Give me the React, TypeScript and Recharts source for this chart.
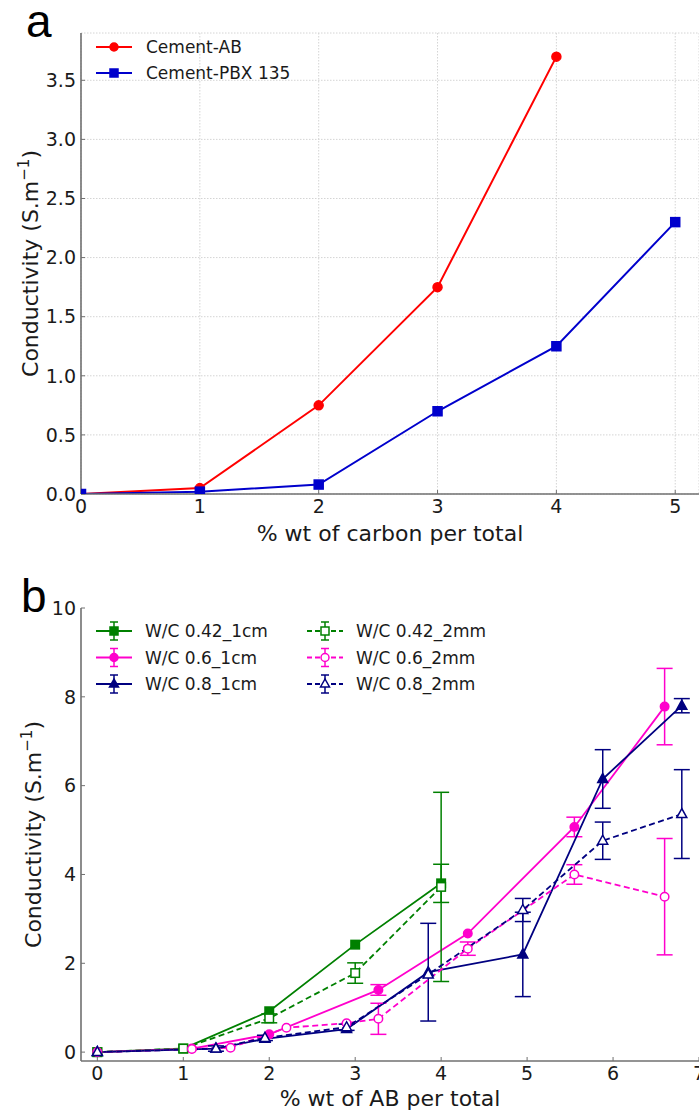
import React from 'react';
import { LineChart, Line, XAxis, YAxis, CartesianGrid, ErrorBar, Legend } from 'recharts';

// ---- panel a: conductivity vs carbon content ----
const carbonPct = [0, 1, 2, 3, 4, 5];
const cementAB = [0, 0.05, 0.75, 1.75, 3.7];
const cementPBX = [0, 0.02, 0.08, 0.7, 1.25, 2.3];
const ticksAX = [0, 1, 2, 3, 4, 5];
const ticksAY = [0, 0.5, 1, 1.5, 2, 2.5, 3, 3.5];

// ---- panel b: conductivity vs AB content, per W/C ratio ----
const wc042cmX = [0, 1.0, 2.0, 3.0, 4.0];
const wc042cmY = [0, 0.08, 0.92, 2.42, 3.8];
const wc042cmErr = [null, null, null, null, 0.43];

const wc042mmX = [0, 1.0, 2.0, 3.0, 4.0];
const wc042mmY = [0, 0.08, 0.76, 1.78, 3.72];
const wc042mmErr = [null, null, 0.1, 0.23, 2.13];

const wc06cmX = [0, 1.1, 2.0, 3.27, 4.31, 5.55, 6.6];
const wc06cmY = [0, 0.08, 0.4, 1.4, 2.67, 5.07, 7.78];
const wc06cmErr = [null, null, null, 0.12, null, 0.22, 0.86];

const wc06mmX = [0, 1.1, 1.55, 2.2, 2.9, 3.27, 4.31, 5.55, 6.6];
const wc06mmY = [0, 0.07, 0.1, 0.55, 0.65, 0.75, 2.33, 4.0, 3.5];
const wc06mmErr = [null, null, null, null, null, 0.35, 0.15, 0.22, 1.31];

const wc08cmX = [0, 1.38, 1.95, 2.9, 3.85, 4.95, 5.88, 6.8];
const wc08cmY = [0, 0.08, 0.3, 0.52, 1.8, 2.2, 6.15, 7.8];
const wc08cmErr = [null, null, null, null, 1.1, 0.95, 0.66, 0.16];

const wc08mmX = [0, 1.38, 1.95, 2.9, 3.85, 4.95, 5.88, 6.8];
const wc08mmY = [0, 0.08, 0.32, 0.56, 1.75, 3.2, 4.76, 5.36];
const wc08mmErr = [null, 0.06, 0.06, 0.07, null, 0.26, 0.42, 1.0];

const ticksBX = [0, 1, 2, 3, 4, 5, 6, 7];
const ticksBY = [0, 2, 4, 6, 8, 10];

const FONT = 'DejaVu Sans, Verdana, sans-serif';
const INK = '#1a1a1a';
const FRAME = '#707070';

const toPoints = (xs: number[], ys: number[], errs?: (number | null)[]) =>
  xs.map((x, i) => ({ x, y: ys[i], err: errs ? errs[i] : null }));

type Shape = 'circle' | 'square' | 'triangle';

const Marker = ({ shape, cx, cy, color, filled, size }: any) => {
  const fill = filled ? color : '#fff';
  const h = size / 2;
  if (shape === 'circle') return <circle cx={cx} cy={cy} r={h} fill={fill} stroke={color} strokeWidth={1.5} />;
  if (shape === 'square')
    return <rect x={cx - h} y={cy - h} width={size} height={size} fill={fill} stroke={color} strokeWidth={1.5} />;
  return (
    <polygon
      points={`${cx},${cy - h - 1} ${cx - h - 0.5},${cy + h - 1} ${cx + h + 0.5},${cy + h - 1}`}
      fill={fill}
      stroke={color}
      strokeWidth={1.5}
    />
  );
};

const makeDot = (name: string, shape: Shape, color: string, filled: boolean, size: number) => (p: any) => (
  <Marker key={`${name}-${p.index}`} shape={shape} cx={p.cx} cy={p.cy} color={color} filled={filled} size={size} />
);

const seriesA = [
  { name: 'Cement-AB', data: toPoints(carbonPct.slice(0, cementAB.length), cementAB), color: '#ff0000', shape: 'circle' as Shape, size: 9 },
  { name: 'Cement-PBX 135', data: toPoints(carbonPct, cementPBX), color: '#0000cc', shape: 'square' as Shape, size: 9 },
];

const seriesB = [
  { name: 'W/C 0.42_1cm', data: toPoints(wc042cmX, wc042cmY, wc042cmErr), color: '#008000', shape: 'square' as Shape, filled: true, dashed: false },
  { name: 'W/C 0.6_1cm', data: toPoints(wc06cmX, wc06cmY, wc06cmErr), color: '#ff00cc', shape: 'circle' as Shape, filled: true, dashed: false },
  { name: 'W/C 0.8_1cm', data: toPoints(wc08cmX, wc08cmY, wc08cmErr), color: '#000080', shape: 'triangle' as Shape, filled: true, dashed: false },
  { name: 'W/C 0.42_2mm', data: toPoints(wc042mmX, wc042mmY, wc042mmErr), color: '#008000', shape: 'square' as Shape, filled: false, dashed: true },
  { name: 'W/C 0.6_2mm', data: toPoints(wc06mmX, wc06mmY, wc06mmErr), color: '#ff00cc', shape: 'circle' as Shape, filled: false, dashed: true },
  { name: 'W/C 0.8_2mm', data: toPoints(wc08mmX, wc08mmY, wc08mmErr), color: '#000080', shape: 'triangle' as Shape, filled: false, dashed: true },
];

const tickStyle = { fill: INK, fontSize: 19, fontFamily: FONT };

const YTitle = ({ viewBox, baseX }: any) => {
  const cy = viewBox.y + viewBox.height / 2;
  return (
    <text transform={`translate(${baseX},${cy}) rotate(-90)`} textAnchor="middle" fontSize={22} fontFamily={FONT} fill={INK}>
      <tspan>Conductivity (S.m</tspan>
      <tspan fontSize={15} dy={-9}>−1</tspan>
      <tspan dy={9}>)</tspan>
    </text>
  );
};

const XTitle = ({ viewBox, text, baseY }: any) => (
  <text x={viewBox.x + viewBox.width / 2} y={baseY} textAnchor="middle" fontSize={22} fontFamily={FONT} fill={INK}>
    {text}
  </text>
);

const LegendA = () => (
  <svg width={260} height={60} style={{ display: 'block' }}>
    {seriesA.map((s, i) => (
      <g key={s.name} transform={`translate(0,${10 + i * 26})`}>
        <line x1={0} x2={36} y1={0} y2={0} stroke={s.color} strokeWidth={2} />
        <Marker shape={s.shape} cx={18} cy={0} color={s.color} filled size={8} />
        <text x={50} y={6} fontSize={17} fontFamily={FONT} fill={INK}>
          {s.name}
        </text>
      </g>
    ))}
  </svg>
);

const LegendB = () => (
  <svg width={420} height={90} style={{ display: 'block' }}>
    {seriesB.map((s, i) => {
      const col = i < 3 ? 0 : 1;
      const row = i % 3;
      return (
        <g key={s.name} transform={`translate(${col * 211},${12 + row * 26.5})`}>
          <line x1={0} x2={36} y1={0} y2={0} stroke={s.color} strokeWidth={1.8} strokeDasharray={s.dashed ? '5 3' : undefined} />
          <line x1={18} x2={18} y1={-9} y2={9} stroke={s.color} strokeWidth={1.5} />
          <line x1={14} x2={22} y1={-9} y2={-9} stroke={s.color} strokeWidth={1.5} />
          <line x1={14} x2={22} y1={9} y2={9} stroke={s.color} strokeWidth={1.5} />
          <Marker shape={s.shape} cx={18} cy={0} color={s.color} filled={s.filled} size={8} />
          <text x={49} y={6} fontSize={17} fontFamily={FONT} fill={INK}>
            {s.name}
          </text>
        </g>
      );
    })}
  </svg>
);

const fmtA = (v: number) => v.toFixed(1);

const ChartA = () => (
  <LineChart width={720} height={560} margin={{ top: 33, right: 21, left: 0, bottom: 0 }}>
    <CartesianGrid stroke="#d4d4d4" strokeDasharray="1.5 1.5" />
    <XAxis
      dataKey="x"
      type="number"
      domain={[0, 5.2]}
      allowDataOverflow
      ticks={ticksAX}
      interval={0}
      height={66}
      tick={tickStyle}
      tickSize={-4}
      tickMargin={10}
      tickLine={{ stroke: FRAME }}
      axisLine={{ stroke: FRAME, strokeWidth: 1.6 }}
      label={{ content: (p: any) => <XTitle {...p} text="% wt of carbon per total" baseY={541} /> }}
    />
    <XAxis xAxisId="top" orientation="top" type="number" domain={[0, 5.2]} height={0} tick={false} tickLine={false} axisLine={{ stroke: FRAME, strokeWidth: 1.6 }} />
    <YAxis
      type="number"
      domain={[0, 3.9]}
      allowDataOverflow
      ticks={ticksAY}
      interval={0}
      width={81}
      tick={tickStyle}
      tickFormatter={fmtA}
      tickSize={-4}
      tickMargin={9}
      tickLine={{ stroke: FRAME }}
      axisLine={{ stroke: FRAME, strokeWidth: 1.6 }}
      label={{ content: (p: any) => <YTitle {...p} baseX={38} /> }}
    />
    {seriesA.map((s) => (
      <Line
        key={s.name}
        data={s.data}
        dataKey="y"
        name={s.name}
        stroke={s.color}
        strokeWidth={2}
        dot={makeDot(s.name, s.shape, s.color, true, s.size)}
        activeDot={false}
        isAnimationActive={false}
      />
    ))}
    <Legend layout="horizontal" verticalAlign="middle" align="center" wrapperStyle={{ top: 37, left: 96, width: 260 }} content={() => <LegendA />} />
  </LineChart>
);

const ChartB = () => (
  <LineChart width={720} height={552} margin={{ top: 48, right: 21, left: 0, bottom: 0 }}>
    <XAxis
      dataKey="x"
      type="number"
      domain={[-0.19, 7]}
      allowDataOverflow
      ticks={ticksBX}
      interval={0}
      height={51}
      tick={tickStyle}
      tickSize={-4}
      tickMargin={10}
      tickLine={{ stroke: FRAME }}
      axisLine={{ stroke: FRAME, strokeWidth: 1.6 }}
      label={{ content: (p: any) => <XTitle {...p} text="% wt of AB per total" baseY={546} /> }}
    />
    <XAxis xAxisId="top" orientation="top" type="number" domain={[-0.19, 7]} height={0} tick={false} tickLine={false} axisLine={{ stroke: FRAME, strokeWidth: 1.6 }} />
    <YAxis
      type="number"
      domain={[-0.2, 10]}
      allowDataOverflow
      ticks={ticksBY}
      interval={0}
      width={81}
      tick={tickStyle}
      tickSize={-4}
      tickMargin={9}
      tickLine={{ stroke: FRAME }}
      axisLine={{ stroke: FRAME, strokeWidth: 1.6 }}
      label={{ content: (p: any) => <YTitle {...p} baseX={41} /> }}
    />
    {seriesB.map((s) => (
      <Line
        key={s.name}
        data={s.data}
        dataKey="y"
        name={s.name}
        stroke={s.color}
        strokeWidth={1.8}
        strokeDasharray={s.dashed ? '6 3.5' : undefined}
        dot={makeDot(s.name, s.shape, s.color, s.filled, s.shape === 'triangle' ? 9 : 8.5)}
        activeDot={false}
        isAnimationActive={false}
      >
        <ErrorBar dataKey="err" direction="y" width={8} stroke={s.color} strokeWidth={1.5} isAnimationActive={false} />
      </Line>
    ))}
    <Legend layout="horizontal" verticalAlign="middle" align="center" wrapperStyle={{ top: 59, left: 96, width: 420 }} content={() => <LegendB />} />
  </LineChart>
);

export default function App() {
  return (
    <div style={{ position: 'absolute', top: 0, left: 0, width: 699, height: 1112, overflow: 'hidden', background: '#fff' }}>
      <div style={{ position: 'absolute', top: 0, left: 0 }}>
        <ChartA />
      </div>
      <div style={{ position: 'absolute', top: 560, left: 0 }}>
        <ChartB />
      </div>
      <svg width={699} height={1112} style={{ position: 'absolute', top: 0, left: 0, pointerEvents: 'none' }}>
        <text x={26} y={37} fontSize={46} fontFamily="Liberation Sans, Arial, sans-serif" fill="#000">a</text>
        <text x={21} y={612} fontSize={46} fontFamily="Liberation Sans, Arial, sans-serif" fill="#000">b</text>
      </svg>
    </div>
  );
}
